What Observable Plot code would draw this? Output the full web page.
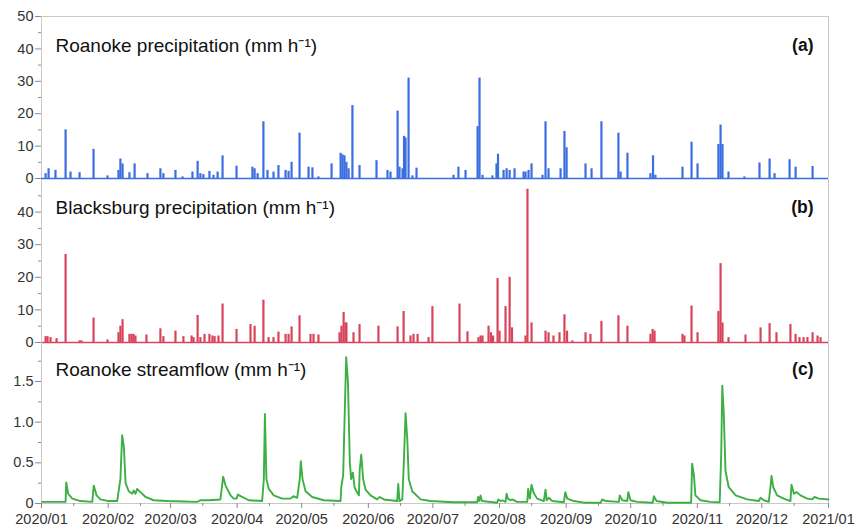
<!DOCTYPE html>
<html>
<head>
<meta charset="utf-8">
<script src="https://cdn.jsdelivr.net/npm/d3@7"></script>
<script src="https://cdn.jsdelivr.net/npm/@observablehq/plot@0.6"></script>
<style>
  html, body { margin: 0; padding: 0; background: #fff; }
  #chart { width: 859px; font-family: "Liberation Sans", Arial, sans-serif; }
  #chart svg { display: block; }
</style>
</head>
<body>
<div id="chart"></div>
<script>
// ---- Data ----
// Day offsets are days since 2020-01-01 (UTC)
const roanokeRainDay = [1.9,3.3,6.5,11.2,13.5,17.7,24.2,30.7,35.8,36.7,37.7,40.9,43.3,49.3,55.3,56.7,62.3,65.6,70.2,72.6,73.9,75.3,78.1,80.0,81.9,84.2,90.7,98.1,99.1,100.5,103.2,105.1,107.9,110.2,113.5,114.9,116.3,120.0,124.2,126.0,128.8,134.9,139.1,140.0,140.9,141.8,142.8,144.6,147.9,155.8,160.9,162.3,165.6,166.5,167.9,168.6,169.3,170.7,172.5,174.4,191.6,193.9,197.2,202.8,203.7,205.1,209.7,211.6,212.3,214.9,216.3,217.7,220.0,224.2,225.1,226.5,227.9,233.0,234.4,235.8,241.4,243.2,244.2,253.0,255.8,260.4,268.3,269.3,272.5,283.2,284.4,285.5,298.1,302.3,305.1,314.8,315.8,316.7,319.5,326.9,333.9,338.6,340.9,347.9,350.7,358.6];
const roanokeRainMm  = [1.5,3,2.5,15,2,1.8,9,0.8,2.5,6,4.5,1.8,4.5,1.5,3,1.5,2.5,0.5,2,5.3,1.5,1.2,2.2,1,2,7,3.8,3.5,3,1.5,17.5,2.5,2,4,2.5,2.2,5,14,3.5,3.3,0.5,4.5,7.8,7.3,7,5,3,22.5,4,5.5,2.5,2,20.8,3.5,3,13,12.5,31,0.8,3.2,1,3.5,2.5,16,31,1,0.8,4.5,7.5,2.5,3,2.5,3,2,2,2.5,4.5,1,17.5,3,3,14.5,9.5,4.5,3,17.5,14,2,7.8,1.5,7,1,3.5,11.2,4.5,10.5,16.5,10.5,2,0.5,4.8,6,1.5,5.8,3.5,3.7];

const blacksburgRainDay = [1.9,2.8,4.2,7.0,11.2,17.7,18.6,24.2,30.7,35.8,36.7,37.7,40.9,41.9,42.8,43.7,48.8,55.3,56.7,62.3,66.0,69.8,70.7,72.6,73.9,75.8,78.1,79.5,80.5,82.3,84.2,90.7,97.2,99.1,103.2,105.6,107.9,110.2,113.5,114.9,116.3,120.0,125.1,126.5,128.8,138.6,139.5,140.5,141.4,141.8,145.1,147.9,156.7,165.6,168.4,171.6,173.0,174.9,180.0,181.8,194.4,198.1,203.2,204.2,205.1,207.9,209.0,210.0,212.1,213.0,215.8,217.7,218.8,225.1,226.0,227.9,234.4,235.8,238.1,240.9,243.2,244.4,246.9,253.0,255.3,260.4,268.3,272.5,283.2,284.2,285.1,298.1,299.0,302.3,305.1,314.8,315.8,316.7,319.5,327.4,334.4,338.6,341.8,348.3,350.7,352.5,354.4,356.2,358.6,360.9,362.3];
const blacksburgRainMm  = [1.8,1.8,1.5,1.2,27,0.5,0.5,7.5,0.8,3,5,7,2.5,2.5,2.5,2,2.3,4.2,1.8,3.5,1.8,2,1.5,8.3,1.5,2.5,2.5,2,1.8,2,11.8,4,5.5,5,13,1.5,1.5,3.2,2.5,2.5,4.8,8.2,2.5,2.5,2.3,3,5,9.2,6,6,3,5.5,5,4.8,9.5,2,2.5,2.5,1.5,11,11.8,3.3,1.5,2,2,5,3,2,19.6,3.5,11,20,4.5,2,47,6,3.5,3,2,3,8.5,3.5,0.5,3,2.5,6.5,8.2,5,2.5,4,3.5,2.5,2,11.2,3,9.5,24.2,6,1.5,2.3,4.5,5.8,3,5.5,2.5,1.5,1.5,1.5,3,2,1.5];

const flowDay = [0.3,11.2,11.5,12.4,14.3,18.1,23.6,24.3,25.6,27.4,31.2,35.2,36.7,37.5,38.3,39.1,40.6,42.2,42.9,43.7,44.5,46.0,48.4,52.1,58.5,66.2,72.4,73.9,77.8,83.2,84.5,85.6,87.9,89.4,90.7,91.3,92.6,96.4,102.6,103.4,103.9,104.6,105.7,108.0,111.9,115.8,117.1,118.9,120.1,120.6,121.4,122.8,125.9,131.3,139.1,139.4,140.3,141.1,141.7,142.5,143.4,144.0,144.8,145.6,146.5,147.6,148.0,148.7,149.6,150.7,153.0,156.1,157.3,159.2,165.4,165.9,166.5,167.8,168.5,169.3,170.1,170.8,172.4,176.3,180.9,191.6,202.6,203.1,203.6,204.2,204.8,211.9,212.4,213.5,214.3,215.8,216.3,216.9,218.1,218.9,221.2,225.9,226.3,227.1,227.9,228.9,230.5,233.6,234.4,234.9,235.9,237.5,242.9,243.6,244.5,247.6,252.2,260.0,260.8,262.3,268.5,268.9,270.1,272.4,272.9,273.9,277.0,284.3,284.8,286.0,291.0,302.1,302.6,303.4,304.1,306.5,311.1,315.4,316.1,316.6,317.3,318.1,319.6,322.8,328.2,333.6,334.4,335.9,338.2,339.0,339.5,340.3,342.1,345.2,348.3,348.8,349.9,351.1,353.0,356.1,358.4,359.5,361.5,366.0];
const flowMm  = [0.02,0.02,0.26,0.12,0.06,0.03,0.02,0.22,0.1,0.05,0.03,0.03,0.3,0.84,0.7,0.25,0.15,0.12,0.16,0.12,0.18,0.14,0.08,0.04,0.03,0.025,0.02,0.04,0.04,0.05,0.33,0.22,0.1,0.06,0.06,0.11,0.09,0.04,0.03,0.3,1.1,0.3,0.18,0.1,0.06,0.06,0.09,0.07,0.3,0.52,0.3,0.15,0.08,0.04,0.03,0.2,0.35,1.2,1.8,1.5,0.5,0.3,0.38,0.2,0.15,0.1,0.42,0.6,0.3,0.17,0.1,0.05,0.08,0.05,0.03,0.24,0.03,0.05,0.5,1.11,0.8,0.3,0.15,0.05,0.03,0.015,0.015,0.08,0.03,0.1,0.03,0.01,0.05,0.03,0.04,0.02,0.12,0.06,0.04,0.05,0.02,0.02,0.18,0.06,0.23,0.13,0.06,0.03,0.17,0.04,0.07,0.03,0.015,0.14,0.06,0.03,0.01,0.01,0.05,0.03,0.02,0.1,0.04,0.03,0.14,0.04,0.02,0.01,0.09,0.03,0.01,0.01,0.49,0.35,0.1,0.04,0.02,0.015,0.6,1.45,1.1,0.4,0.2,0.1,0.05,0.03,0.07,0.04,0.02,0.2,0.34,0.2,0.1,0.06,0.03,0.23,0.12,0.14,0.1,0.06,0.05,0.08,0.06,0.05];

const monthTicks = ["2020/01","2020/02","2020/03","2020/04","2020/05","2020/06","2020/07","2020/08","2020/09","2020/10","2020/11","2020/12","2021/01"];
const rainTicks = [0,10,20,30,40,50];
const rainTicksB = [0,10,20,30,40];
const rainMinor = [5,15,25,35,45];
const flowTicks = [0,0.5,1.0,1.5];
const flowMinor = [0.25,0.75,1.25,1.75];
const titles = ["Roanoke precipitation (mm h\u207B\u00B9)", "Blacksburg precipitation (mm h\u207B\u00B9)", "Roanoke streamflow (mm h\u207B\u00B9)"];
const panelTags = ["(a)", "(b)", "(c)"];

// ---- Build tables ----
const t0 = Date.UTC(2020, 0, 1);
const toDate = d => new Date(t0 + d * 864e5);
const zip = (days, vals) => days.map((d, i) => ({date: toDate(d), v: vals[i]}));
const roanokeRain = zip(roanokeRainDay, roanokeRainMm);
const blacksburgRain = zip(blacksburgRainDay, blacksburgRainMm);
const flow = zip(flowDay, flowMm);
const parseMonth = d3.utcParse("%Y/%m");
const monthDates = monthTicks.map(parseMonth);
const midMonths = monthDates.slice(0, -1).map(d => d3.utcDay.offset(d, 15));
const xDomain = [monthDates[0], monthDates[monthDates.length - 1]];

const BLUE = "#3b6ee0", RED = "#d8455b", GREEN = "#3cb043";
const FRAME = "#c9c9c9", TICK = "#8a8a8a", TEXT = "#333";
const FONT = "'Liberation Sans', Arial, Helvetica, sans-serif";
const TICKFONT = 14.5;

function baseStyle() {
  return {fontFamily: FONT, fontSize: TICKFONT + "px", background: "transparent", overflow: "visible", color: TEXT};
}
function frameMarks(topValue) {
  const m = [Plot.ruleX(xDomain, {stroke: FRAME, strokeWidth: 1})];
  if (topValue != null) m.push(Plot.ruleY([topValue], {stroke: FRAME, strokeWidth: 1}));
  return m;
}
function titleMarks(i, dy) {
  return [
    Plot.text([titles[i]], {frameAnchor: "top-left", dx: 14, dy, textAnchor: "start", lineAnchor: "middle", fontSize: 19, fill: "#111"}),
    Plot.text([panelTags[i]], {frameAnchor: "top-right", dx: -15, dy, textAnchor: "end", lineAnchor: "middle", fontSize: 17.5, fontWeight: "bold", fill: "#111"})
  ];
}
function rainPanel(i, data, color, height, marginTop, marginBottom, majors) {
  return Plot.plot({
    width: 859, height, marginTop, marginBottom, marginLeft: 41, marginRight: 31,
    style: baseStyle(),
    x: {type: "utc", domain: xDomain, axis: null},
    y: {domain: [0, 50], axis: null},
    marks: [
      ...frameMarks(i === 0 ? 50 : null),
      Plot.axisY(majors, {anchor: "left", tickSize: 6, tickPadding: 2, stroke: TICK, fill: TEXT, fontSize: TICKFONT, label: null}),
      Plot.axisY(rainMinor, {anchor: "left", tickSize: 3, tickFormat: () => "", stroke: TICK, label: null}),
      Plot.ruleY([0], {stroke: color, strokeWidth: 1.7}),
      Plot.ruleX(data, {x: "date", y: "v", stroke: color, strokeWidth: 2.2}),
      ...titleMarks(i, i === 0 ? 29 : 28)
    ]
  });
}

const chart = document.getElementById("chart");
chart.append(rainPanel(0, roanokeRain, BLUE, 179, 16, 1, rainTicks));
chart.append(rainPanel(1, blacksburgRain, RED, 163, 0, 0, rainTicksB));

chart.append(Plot.plot({
  width: 859, height: 187, marginTop: 0, marginBottom: 26, marginLeft: 41, marginRight: 31,
  style: baseStyle(),
  x: {type: "utc", domain: xDomain, axis: null},
  y: {domain: [0, 1.98], axis: null},
  marks: [
    ...frameMarks(null),
    Plot.ruleY([0], {stroke: FRAME, strokeWidth: 1}),
    Plot.axisY(flowTicks, {anchor: "left", tickSize: 6, tickPadding: 2, stroke: TICK, fill: TEXT, fontSize: TICKFONT, label: null,
      tickFormat: d => d === 0 ? "0" : d3.format(".1f")(d)}),
    Plot.axisY(flowMinor, {anchor: "left", tickSize: 3, tickFormat: () => "", stroke: TICK, label: null}),
    Plot.axisX(monthDates, {anchor: "bottom", tickSize: 5, tickPadding: 5, stroke: TICK, fill: TEXT, fontSize: TICKFONT, label: null,
      tickFormat: d3.utcFormat("%Y/%m")}),
    Plot.axisX(midMonths, {anchor: "bottom", tickSize: 3, tickFormat: () => "", stroke: TICK, label: null}),
    Plot.lineY(flow, {x: "date", y: "v", stroke: GREEN, strokeWidth: 1.9, curve: "linear"}),
    ...titleMarks(2, 27)
  ]
}));
</script>
</body>
</html>
